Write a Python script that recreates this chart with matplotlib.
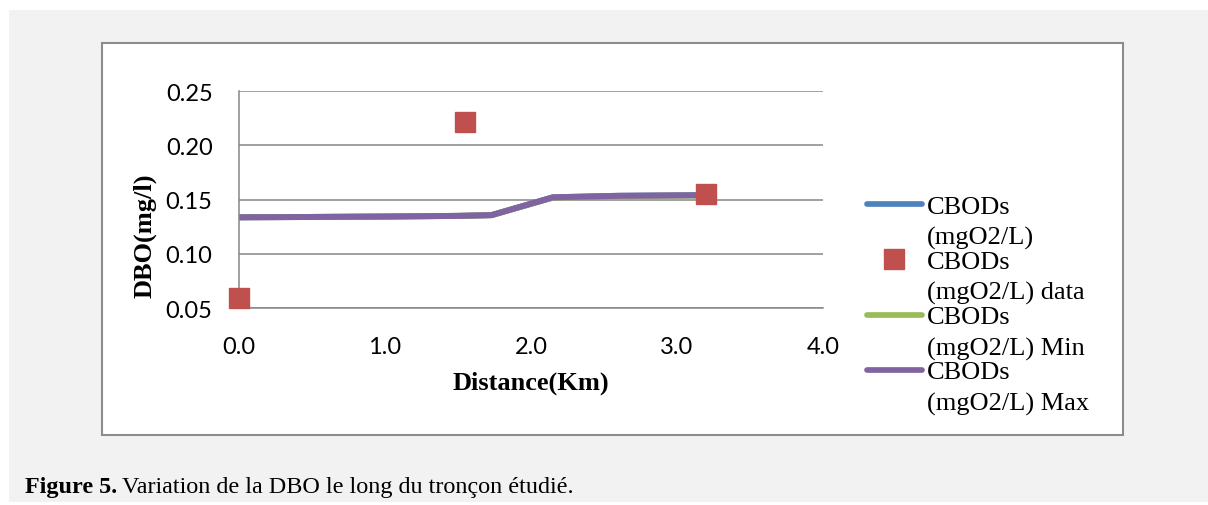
import matplotlib
matplotlib.use("Agg")
import matplotlib.pyplot as plt
from matplotlib.lines import Line2D
from matplotlib.patches import Rectangle

# model output (CBODs, min and max coincide)
distance_model = [0.0, 0.5, 1.0, 1.5, 1.73, 2.15, 2.6, 3.2]
cbod_model = [0.1336, 0.1339, 0.1343, 0.1349, 0.1356, 0.1520, 0.1534, 0.1540]
cbod_min = [0.1336, 0.1339, 0.1343, 0.1349, 0.1356, 0.1517, 0.1531, 0.1537]
cbod_max = [0.1336, 0.1339, 0.1343, 0.1349, 0.1356, 0.1520, 0.1534, 0.1540]

# measured points
distance_obs = [0.0, 1.55, 3.2]
cbod_obs = [0.059, 0.221, 0.155]

x_ticks = [0.0, 1.0, 2.0, 3.0, 4.0]
y_ticks = [0.05, 0.10, 0.15, 0.20, 0.25]

legend_labels = [
    ("CBODs", "(mgO2/L)"),
    ("CBODs", "(mgO2/L) data"),
    ("CBODs", "(mgO2/L) Min"),
    ("CBODs", "(mgO2/L) Max"),
]
colors = ["#4f81bd", "#c0504d", "#9bbb59", "#8064a2"]

W, H = 1208, 506
SERIF = "Liberation Serif"
TICKFONT = "Lato"


def px(x, y):
    return x / W, 1 - y / H


fig = plt.figure(figsize=(W / 100, H / 100), dpi=100, facecolor="white")

# page background and chart frame
fig.add_artist(Rectangle(px(9, 503), (W - 9) / W, (503 - 11) / H,
                         transform=fig.transFigure, facecolor="#f2f2f2",
                         edgecolor="none", zorder=-3))
fig.add_artist(Rectangle(px(102, 436), (1123 - 102) / W, (436 - 44) / H,
                         transform=fig.transFigure, facecolor="white",
                         edgecolor="#8c8c8c", linewidth=1.5, zorder=-2))

ax = fig.add_axes([239 / W, 1 - 309 / H, 584 / W, 217 / H])
ax.set_facecolor("none")

lw = 4.3
ax.plot(distance_model, cbod_model, color=colors[0], lw=lw, solid_capstyle="round")
ax.plot(distance_obs, cbod_obs, ls="none", marker="s", ms=14,
        color=colors[1], clip_on=False, zorder=5)
ax.plot(distance_model, cbod_min, color=colors[2], lw=lw, solid_capstyle="round")
ax.plot(distance_model, cbod_max, color=colors[3], lw=lw, solid_capstyle="round")

ax.set_xlim(0, 4)
ax.set_ylim(0.05, 0.25)
ax.set_xticks(x_ticks)
ax.set_yticks(y_ticks)
ax.set_xticklabels([f"{v:.1f}" for v in x_ticks])
ax.set_yticklabels([f"{v:.2f}" for v in y_ticks])
ax.tick_params(length=0, labelsize=17)
ax.tick_params(axis="y", pad=19)
ax.tick_params(axis="x", pad=20)
for lab in ax.get_xticklabels() + ax.get_yticklabels():
    lab.set_fontfamily(TICKFONT)

ax.grid(axis="y", color="#868686", lw=1.1)
ax.set_axisbelow(True)
for side in ["top", "right"]:
    ax.spines[side].set_visible(False)
for side in ["left", "bottom"]:
    ax.spines[side].set_color("#868686")
    ax.spines[side].set_linewidth(1.1)

ax.set_xlabel("Distance(Km)", fontfamily=SERIF, fontweight="bold", fontsize=19, va="center")
ax.xaxis.set_label_coords(0.5, (309 - 383) / 217)
ax.set_ylabel("DBO(mg/l)", fontfamily=SERIF, fontweight="bold", fontsize=19, va="center")
ax.yaxis.set_label_coords((145 - 239) / 584, (309 - 236) / 217)

# legend, drawn by hand to keep the handle on the first text line
for i, (top, bottom) in enumerate(legend_labels):
    yc = 205 + 55.3 * i
    if i == 1:
        fig.add_artist(Line2D([px(894, yc)[0]], [px(894, yc)[1]], marker="s", ms=14,
                              color=colors[i], ls="none", transform=fig.transFigure))
    else:
        x0, y0 = px(867, yc)
        x1, _ = px(922, yc)
        fig.add_artist(Line2D([x0, x1], [y0, y0], color=colors[i], lw=4.1,
                              solid_capstyle="round", transform=fig.transFigure))
    fig.text(*px(927, yc + 8.5), top, fontfamily=SERIF, fontsize=19, va="baseline")
    fig.text(*px(927, yc + 39.5), bottom, fontfamily=SERIF, fontsize=19, va="baseline")

# caption
t1 = fig.text(*px(25, 493), "Figure 5.", fontfamily=SERIF, fontweight="bold",
              fontsize=17.4, va="baseline")
fig.canvas.draw()
bb = t1.get_window_extent()
fig.text((bb.x1 + 5) / W, 1 - 493 / H, "Variation de la DBO le long du tronçon étudié.",
         fontfamily=SERIF, fontsize=17.4, va="baseline")

fig.savefig("out.png", dpi=100, facecolor=fig.get_facecolor())
